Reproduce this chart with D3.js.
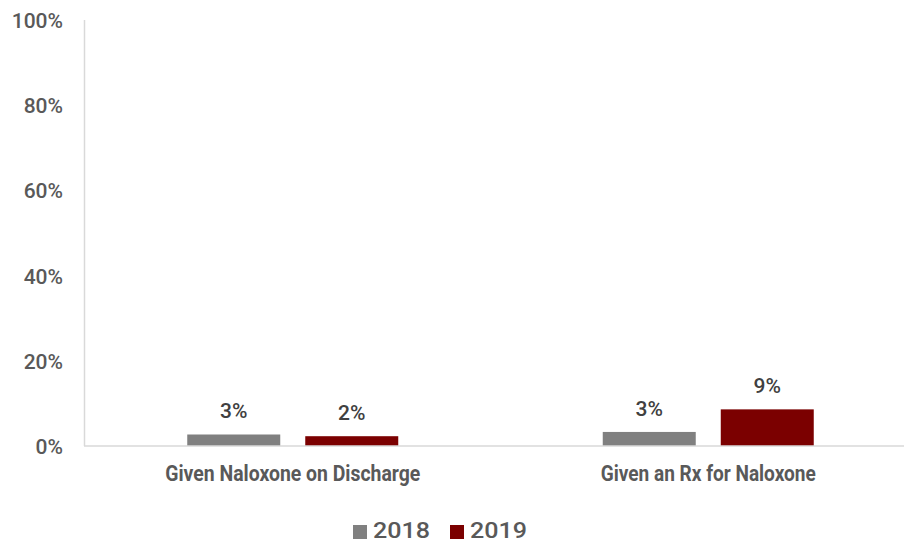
<!DOCTYPE html>
<html>
<head>
<meta charset="utf-8">
<script src="https://cdn.jsdelivr.net/npm/d3@7"></script>
<style>
  html, body { margin: 0; padding: 0; background: #ffffff; }
  svg { display: block; }
</style>
</head>
<body>
<svg id="chart" width="904" height="544"></svg>
<script>
// Naloxone at discharge, share of patients by year
const categories = ["Given Naloxone on Discharge", "Given an Rx for Naloxone"];
const years = ["2018", "2019"];
const values2018 = [2.7, 3.3];
const values2019 = [2.3, 8.6];
const yTicks = [0, 20, 40, 60, 80, 100];

const colors = { "2018": "#808080", "2019": "#7b0000" };
const seriesValues = { "2018": values2018, "2019": values2019 };

const svg = d3.select("#chart");
const width = 904, height = 544;
const margin = { left: 85, right: -12, top: 20, bottom: 98 };
const plotBottom = height - margin.bottom; // 446
const plotRight = width - margin.right;
const fontFamily = "Roboto, 'Open Sans', sans-serif";

const x0 = d3.scaleBand()
  .domain(categories)
  .range([margin.left, plotRight])
  .paddingInner(0)
  .paddingOuter(0);

const x1 = d3.scaleBand()
  .domain(years)
  .range([0, 211])
  .paddingInner(0.212);

const y = d3.scaleLinear()
  .domain([0, 100])
  .range([plotBottom, margin.top]);

// y axis line and labels
svg.append("line")
  .attr("x1", margin.left - 0.5).attr("x2", margin.left - 0.5)
  .attr("y1", y(100)).attr("y2", plotBottom)
  .attr("stroke", "#d9d9d9").attr("stroke-width", 1.5);

svg.append("g")
  .selectAll("text")
  .data(yTicks)
  .join("text")
  .attr("x", 63)
  .attr("y", d => y(d) + 8)
  .attr("text-anchor", "end")
  .attr("font-family", fontFamily)
  .attr("font-weight", 500)
  .attr("font-size", 21)
  .attr("fill", "#595959")
  .text(d => d + "%");

// bars
const groups = svg.append("g")
  .selectAll("g")
  .data(categories)
  .join("g")
  .attr("transform", d => `translate(${x0(d) + (x0.bandwidth() - 211) / 2},0)`);

groups.selectAll("rect")
  .data((c, i) => years.map(yr => ({ yr, v: seriesValues[yr][i] })))
  .join("rect")
  .attr("x", d => x1(d.yr))
  .attr("width", x1.bandwidth())
  .attr("y", d => y(d.v))
  .attr("height", d => plotBottom - y(d.v))
  .attr("fill", d => colors[d.yr]);

groups.selectAll("text.val")
  .data((c, i) => years.map(yr => ({ yr, v: seriesValues[yr][i] })))
  .join("text")
  .attr("class", "val")
  .attr("x", d => x1(d.yr) + x1.bandwidth() / 2)
  .attr("y", d => y(d.v) - 16)
  .attr("text-anchor", "middle")
  .attr("font-family", fontFamily)
  .attr("font-weight", 500)
  .attr("font-size", 21)
  .attr("fill", "#404040")
  .text(d => Math.round(d.v) + "%");

// x axis line
svg.append("line")
  .attr("x1", margin.left - 1).attr("x2", width)
  .attr("y1", plotBottom).attr("y2", plotBottom)
  .attr("stroke", "#d9d9d9").attr("stroke-width", 1.5);

// category labels
const catWidths = [255, 215];
svg.append("g")
  .selectAll("text")
  .data(categories)
  .join("text")
  .attr("x", d => x0(d) + x0.bandwidth() / 2)
  .attr("y", 481)
  .attr("text-anchor", "middle")
  .attr("font-family", fontFamily)
  .attr("font-weight", "bold")
  .attr("font-size", 22.5)
  .attr("fill", "#595959")
  .attr("textLength", (d, i) => catWidths[i])
  .attr("lengthAdjust", "spacingAndGlyphs")
  .text(d => d);

// legend
const legend = svg.append("g").attr("transform", "translate(353,525)");
const legendItems = legend.selectAll("g")
  .data(years)
  .join("g")
  .attr("transform", (d, i) => `translate(${i * 97},0)`);
legendItems.append("rect")
  .attr("width", 14).attr("height", 14)
  .attr("fill", d => colors[d]);
legendItems.append("text")
  .attr("x", 20)
  .attr("y", 13)
  .attr("font-family", fontFamily)
  .attr("font-weight", 500)
  .attr("font-size", 22)
  .attr("fill", "#595959")
  .attr("textLength", 57)
  .attr("lengthAdjust", "spacingAndGlyphs")
  .text(d => d);
</script>
</body>
</html>
